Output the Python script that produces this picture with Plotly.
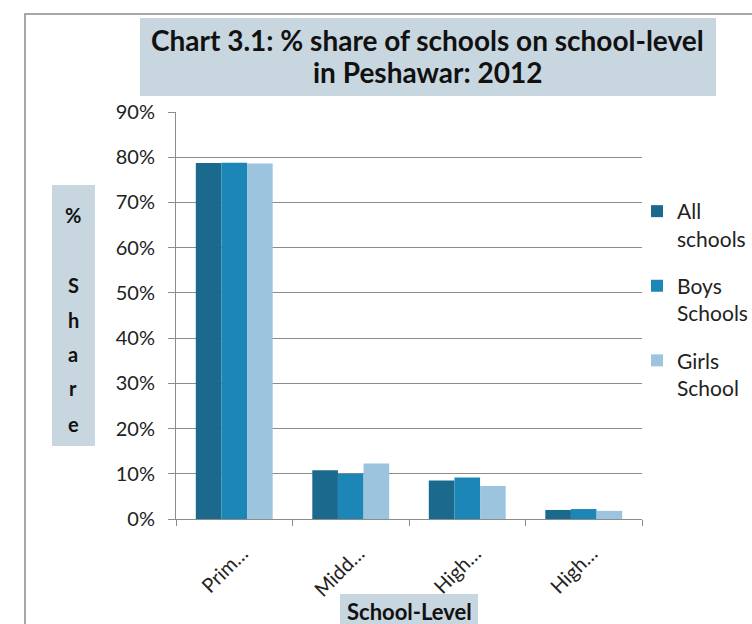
import plotly.graph_objects as go

categories = ["Primary", "Middle", "High", "Higher Secondary"]
tick_labels = ["Prim…", "Midd…", "High…", "High…"]
all_schools = [0.787, 0.108, 0.085, 0.020]
boys_schools = [0.788, 0.100, 0.092, 0.022]
girls_school = [0.786, 0.123, 0.073, 0.018]
series_names = ["All<br>schools", "Boys<br>Schools", "Girls<br>School"]
colors = ["#1b6a8e", "#1c87b6", "#9dc4df"]

W, H = 752, 624
L, R, T, B = 176, 110, 112, 105
PW, PH = W - L - R, H - T - B


def px(x):
    return (x - L) / PW


def py(y):
    return (H - B - y) / PH


FONT = "Lato, Carlito, Calibri, sans-serif"
BOX = "#c8d6df"

fig = go.Figure()
for name, vals, col, grp in zip(series_names, [all_schools, boys_schools, girls_school], colors, ["a", "b", "c"]):
    fig.add_trace(go.Bar(x=categories, y=vals, name=name, marker_color=col,
                         marker_line_width=0, legendgroup=grp))

fig.update_layout(
    width=W, height=H,
    margin=dict(l=L, r=R, t=T, b=B, autoexpand=False),
    paper_bgcolor="white", plot_bgcolor="white",
    barmode="group", bargap=0.34, bargroupgap=0,
    font=dict(family=FONT, color="#222"),
    legend=dict(x=px(637), y=py(191), xanchor="left", yanchor="top",
                font=dict(size=21, color="#222"), valign="top",
                tracegroupgap=17, itemwidth=30, bgcolor="rgba(0,0,0,0)"),
    showlegend=True,
)
fig.update_yaxes(range=[0, 0.9], dtick=0.1, tickformat=".0%",
                 showgrid=True, gridcolor="#8c8c8c", gridwidth=1,
                 showline=True, linecolor="#8c8c8c", linewidth=1,
                 ticks="outside", ticklen=7, tickcolor="#8c8c8c",
                 ticklabelstandoff=9,
                 tickfont=dict(size=20, color="#222"), zeroline=False)
fig.update_xaxes(tickmode="array", tickvals=categories, ticktext=tick_labels,
                 tickangle=-45, tickson="boundaries", ticks="outside", ticklen=6,
                 ticklabelstandoff=14, ticklabelshift=8,
                 tickcolor="#8c8c8c", showline=True, linecolor="#8c8c8c", linewidth=1,
                 tickfont=dict(size=20, color="#222"))

shapes = [
    dict(type="rect", xref="paper", yref="paper", x0=px(25), x1=px(820), y0=py(14), y1=py(700),
         line=dict(color="#8a8a8a", width=1.5), fillcolor="rgba(0,0,0,0)", layer="below"),
    dict(type="rect", xref="paper", yref="paper", x0=px(140), x1=px(716), y0=py(96), y1=py(18),
         line=dict(width=0), fillcolor=BOX, layer="below"),
    dict(type="rect", xref="paper", yref="paper", x0=px(52), x1=px(95), y0=py(446), y1=py(185),
         line=dict(width=0), fillcolor=BOX, layer="below"),
    dict(type="rect", xref="paper", yref="paper", x0=px(340), x1=px(478), y0=py(640), y1=py(594),
         line=dict(width=0), fillcolor=BOX, layer="below"),
]
fig.update_layout(shapes=shapes)


def note(text, x, y, size):
    return dict(text=text, x=px(x), y=py(y), xref="paper", yref="paper", showarrow=False,
                xanchor="center", yanchor="middle", font=dict(size=size, color="#111", family=FONT))


ann = [
    note("<b>Chart 3.1: % share of schools on school-level</b>", 427, 40, 28),
    note("<b>in Peshawar: 2012</b>", 427, 72, 28),
]
letters = [("%", 215), ("S", 285), ("h", 320), ("a", 354), ("r", 388), ("e", 424)]
for ch, yy in letters:
    ann.append(note("<b>" + ch + "</b>", 73, yy, 20))
ann.append(note("<b>School-Level</b>", 409, 611, 22))
fig.update_layout(annotations=ann)

fig.write_html("out.html")
